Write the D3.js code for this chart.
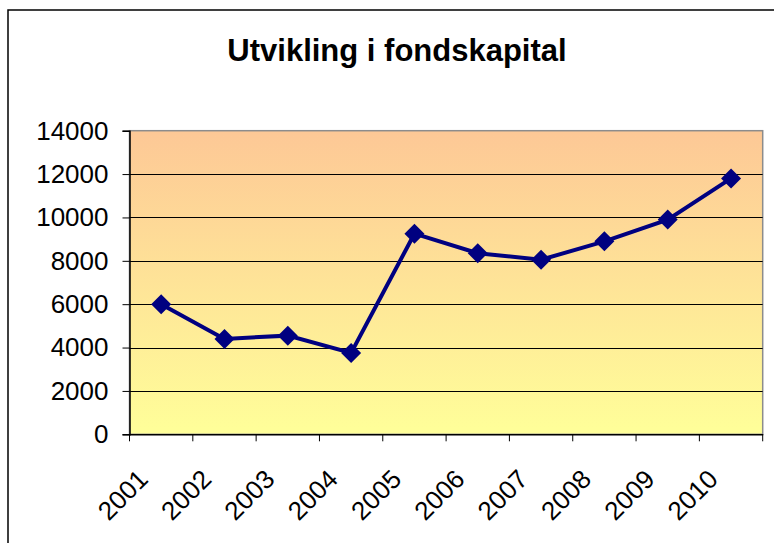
<!DOCTYPE html>
<html>
<head>
<meta charset="utf-8">
<script src="https://cdn.jsdelivr.net/npm/d3@7"></script>
<style>
  body { margin: 0; background: #fff; }
  svg { display: block; font-family: Arial, "Liberation Sans", sans-serif; }
</style>
</head>
<body>
<div id="chart"></div>
<script>
var years = ['2001', '2002', '2003', '2004', '2005', '2006', '2007', '2008', '2009', '2010'];
var values = [6000, 4400, 4550, 3750, 9250, 8350, 8050, 8900, 9900, 11800];
var yTicks = [0, 2000, 4000, 6000, 8000, 10000, 12000, 14000];
var title = 'Utvikling i fondskapital';

var width = 774, height = 543;
var plot = { left: 129.5, top: 130.7, right: 762.7, bottom: 434.3 };

var svg = d3.select('#chart').append('svg')
  .attr('width', width)
  .attr('height', height);

// chart frame (runs off the right and bottom edges)
svg.append('rect')
  .attr('x', 8).attr('y', 10)
  .attr('width', 800).attr('height', 600)
  .style('fill', '#fff')
  .style('stroke', '#000')
  .style('stroke-width', 1.5);

var defs = svg.append('defs');
var grad = defs.append('linearGradient')
  .attr('id', 'bg')
  .attr('x1', 0).attr('y1', 0).attr('x2', 0).attr('y2', 1);
grad.append('stop').attr('offset', '0%').attr('stop-color', '#fdc896');
grad.append('stop').attr('offset', '100%').attr('stop-color', '#ffff99');

var x = d3.scaleBand().domain(years).range([plot.left, plot.right]);
var y = d3.scaleLinear().domain([0, 14000]).range([plot.bottom, plot.top]);

svg.append('rect')
  .attr('x', plot.left).attr('y', plot.top)
  .attr('width', plot.right - plot.left)
  .attr('height', plot.bottom - plot.top)
  .style('fill', 'url(#bg)')
  .style('stroke', '#8c8c8c')
  .style('stroke-width', 1.5);

// gridlines
svg.append('g')
  .selectAll('line')
  .data(yTicks.filter(function (d) { return d > 0 && d < 14000; }))
  .enter().append('line')
  .attr('x1', plot.left).attr('x2', plot.right)
  .attr('y1', function (d) { return Math.round(y(d)) + 0.5; })
  .attr('y2', function (d) { return Math.round(y(d)) + 0.5; })
  .style('stroke', '#000')
  .style('stroke-width', 1);

// y axis
var yAxis = svg.append('g')
  .attr('class', 'yaxis')
  .attr('transform', 'translate(' + plot.left + ',0)')
  .call(d3.axisLeft(y).tickValues(yTicks).tickSize(7).tickPadding(14)
    .tickFormat(d3.format('d')));

// x axis
var xAxis = svg.append('g')
  .attr('class', 'xaxis')
  .attr('transform', 'translate(0,' + plot.bottom + ')')
  .call(d3.axisBottom(x).tickSize(0).tickFormat(''));

xAxis.selectAll('.boundary')
  .data(d3.range(years.length + 1))
  .enter().append('line')
  .attr('class', 'boundary')
  .attr('x1', function (i) { return plot.left + i * x.step(); })
  .attr('x2', function (i) { return plot.left + i * x.step(); })
  .attr('y1', 0).attr('y2', 7)
  .style('stroke', '#000');

xAxis.selectAll('.lbl')
  .data(years)
  .enter().append('text')
  .attr('class', 'lbl')
  .attr('transform', function (d) {
    return 'translate(' + (x(d) + x.bandwidth() / 2 - 18) + ',' + 40 + ') rotate(-45)';
  })
  .attr('text-anchor', 'end')
  .attr('dy', '0.35em')
  .style('font-size', '26px')
  .style('fill', '#000')
  .text(function (d) { return d; });

svg.selectAll('.domain').style('stroke', '#000').style('stroke-width', 1.5);
yAxis.selectAll('.tick line').style('stroke', '#000');
yAxis.selectAll('.tick text')
  .style('font-size', '26px')
  .style('fill', '#000');

// series line + markers
var line = d3.line()
  .x(function (d, i) { return x(years[i]) + x.bandwidth() / 2; })
  .y(function (d) { return y(d); });

svg.append('path')
  .datum(values)
  .attr('d', line)
  .style('fill', 'none')
  .style('stroke', '#000080')
  .style('stroke-width', 4);

svg.append('g')
  .selectAll('path')
  .data(values)
  .enter().append('path')
  .attr('d', d3.symbol().type(d3.symbolSquare).size(200))
  .attr('transform', function (d, i) {
    return 'translate(' + (x(years[i]) + x.bandwidth() / 2) + ',' + y(d) + ') rotate(45)';
  })
  .style('fill', '#000080');

svg.append('text')
  .attr('x', 397).attr('y', 61)
  .attr('text-anchor', 'middle')
  .style('font-size', '31px')
  .style('font-weight', 'bold')
  .text(title);
</script>
</body>
</html>
